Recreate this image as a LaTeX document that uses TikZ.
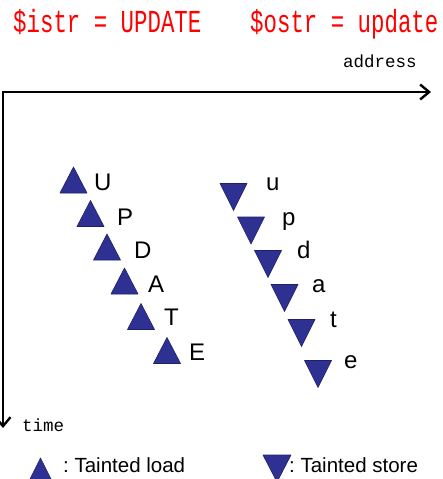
\documentclass[tikz,border=0pt]{standalone}
\usepackage{fontspec}
\setmainfont{Liberation Sans}
\newfontfamily\monofont{Liberation Mono}
\usetikzlibrary{arrows.meta}
\definecolor{tribl}{RGB}{46,49,146}
\definecolor{triedge}{RGB}{30,32,100}
\definecolor{redtxt}{RGB}{255,0,0}
\tikzset{
  tri/.style={fill=tribl, draw=triedge, line width=0.6pt, line join=round},
  axis/.style={line width=2.4pt, -{Straight Barb[length=9pt,width=15pt,line width=2.4pt]}},
  bigletter/.style={anchor=base west, inner sep=0pt, font=\fontsize{24}{24}\selectfont},
  mono/.style={anchor=base west, inner sep=0pt, font=\monofont\fontsize{17.5}{17.5}\selectfont},
  redmono/.style={anchor=base west, inner sep=0pt, text=redtxt, font=\monofont\fontsize{32}{32}\selectfont},
  legend/.style={anchor=base west, inner sep=0pt, font=\fontsize{20.5}{20.5}\selectfont},
}
\newcommand{\uptri}[2]{\path[tri] (#1,#2) ++(-13.5,13) -- ++(13.5,-26) -- ++(13.5,26) -- cycle;}
\newcommand{\dntri}[2]{\path[tri] (#1,#2) ++(-13.5,-13.5) -- ++(13.5,27) -- ++(13.5,-27) -- cycle;}
\begin{document}
\begin{tikzpicture}[x=1pt,y=-1pt]
\useasboundingbox[fill=white] (0,0) rectangle (442,479);
% titles
\node[redmono] (istr) at (13,32) {\scalebox{0.7}[1]{\$istr = UPDATE}};
\node[redmono] (ostr) at (250,32) {\scalebox{0.7}[1]{\$ostr = update}};
\node[mono] (addr) at (343,67) {address};
\node[mono] (time) at (22,431) {time};
% axes
\coordinate (o) at (3,92);
\coordinate (xe) at (431,92);
\coordinate (ye) at (3,428);
\draw[axis] ([xshift=-1.2pt]o) -- (xe);
\draw[axis] (o) -- (ye);
% loads
\uptri{73.5}{180}
\uptri{90.5}{213.5}
\uptri{107}{247}
\uptri{124.5}{281}
\uptri{141}{316.5}
\uptri{167}{350.5}
\node[bigletter] (U) at (94,190) {U};
\node[bigletter] (P) at (117,225) {P};
\node[bigletter] (D) at (134,258) {D};
\node[bigletter] (A) at (148,292) {A};
\node[bigletter] (T) at (164,325) {T};
\node[bigletter] (E) at (189,360) {E};
% stores
\dntri{233.5}{197}
\dntri{251}{230.5}
\dntri{268}{264}
\dntri{284.5}{298}
\dntri{301.5}{333}
\dntri{318}{374}
\node[bigletter] (u) at (266,190) {u};
\node[bigletter] (p) at (282,225) {p};
\node[bigletter] (d) at (297,258) {d};
\node[bigletter] (a) at (312,292) {a};
\node[bigletter] (t) at (330,327) {t};
\node[bigletter] (e) at (344,368) {e};
% legend
\path[tri] (29,481) -- (40.5,458) -- (52,481) -- cycle;
\node[legend] (ll) at (63,472) {:\ Tainted load};
\path[tri] (263,455) -- (277,482) -- (291,455) -- cycle;
\node[legend] (ls) at (289,472) {:\ Tainted store};
\end{tikzpicture}
\end{document}
